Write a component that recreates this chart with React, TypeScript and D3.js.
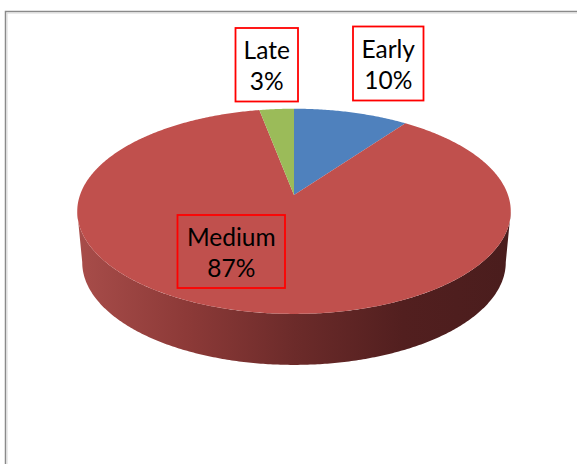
import React from "react";
import * as d3 from "d3";

const categories = ["Early", "Medium", "Late"];
const values = [10, 87, 3];
const percentLabels = ["10%", "87%", "3%"];
const topColors = ["#4f81bd", "#c0504d", "#9bbb59"];

// layout
const W = 577, H = 464;
const CX = 294;        // horizontal centre
const C0 = 195;        // projected centre of top face (apex)
const RXS = 214;       // horizontal radius scale
const K2 = 100;        // vertical radius scale
const P = 0.159;       // perspective factor
const DEPTH = 51;      // thickness
const BOTTOM_SCALE = 0.977;
const labelBoxes: Record<string, { x: number; y: number; w: number; h: number; fill: string }> = {
  Early: { x: 353, y: 26.5, w: 70.5, h: 74, fill: "#ffffff" },
  Late: { x: 235.5, y: 28, w: 62.5, h: 73.5, fill: "#ffffff" },
  Medium: { x: 177.5, y: 215, w: 107.5, h: 73, fill: "none" },
};

const proj = (a: number, level: number): [number, number] => {
  const den = 1 + P * Math.cos(a);
  const sx = level ? BOTTOM_SCALE : 1;
  return [CX + (RXS * sx * Math.sin(a)) / den, C0 - (K2 * Math.cos(a)) / den + level * DEPTH];
};

const sample = (a0: number, a1: number, level: number): [number, number][] => {
  const n = Math.max(2, Math.ceil(Math.abs(a1 - a0) / 0.01));
  const pts: [number, number][] = [];
  for (let k = 0; k <= n; k++) pts.push(proj(a0 + ((a1 - a0) * k) / n, level));
  return pts;
};

const line = d3.line<[number, number]>();

export default function App() {
  const pie = d3.pie<number>().sort(null).startAngle(0).endAngle(2 * Math.PI);
  const arcs = pie(values);
  const thR = Math.acos(-P);
  const thL = 2 * Math.PI - thR;

  const topPath = (a0: number, a1: number) => {
    const pts: [number, number][] = [[CX, C0], ...sample(a0, a1, 0)];
    return line(pts) + "Z";
  };
  const sidePath = (a0: number, a1: number) => {
    const s = Math.max(a0, thR), e = Math.min(a1, thL);
    if (e <= s) return null;
    const pts = [...sample(s, e, 0), ...sample(e, s, 1)];
    return line(pts) + "Z";
  };

  const font = "Lato, 'Open Sans', sans-serif";

  return (
    <svg width={W} height={H} style={{ position: "absolute", left: 0, top: 0 }} xmlns="http://www.w3.org/2000/svg">
      <defs>
        <linearGradient id="sideGrad" gradientUnits="userSpaceOnUse" x1={CX - 217} y1={0} x2={CX + 217} y2={0}>
          <stop offset="0" stopColor="#a84d4a" />
          <stop offset="0.25" stopColor="#8d3a38" />
          <stop offset="0.5" stopColor="#6c2b2a" />
          <stop offset="0.75" stopColor="#521f1f" />
          <stop offset="1" stopColor="#4a1d1d" />
        </linearGradient>
      </defs>
      <rect x={0} y={0} width={W} height={H} fill="#ffffff" />
      <rect x={5.5} y={11.5} width={W + 20} height={H + 20} fill="none" stroke="#8a8a8a" strokeWidth={1.5} />
      <rect x={7} y={13} width={W + 20} height={H + 20} fill="none" stroke="#d8d8d8" strokeWidth={1} />
      {arcs.map((a, i) => {
        const d = sidePath(a.startAngle, a.endAngle);
        return d ? <path key={"s" + i} d={d} fill="url(#sideGrad)" /> : null;
      })}
      {arcs.map((a, i) => (
        <path key={"t" + i} d={topPath(a.startAngle, a.endAngle)} fill={topColors[i]} />
      ))}
      {categories.map((c, i) => {
        const b = labelBoxes[c];
        const cx = b.x + b.w / 2;
        return (
          <g key={"l" + i}>
            <rect x={b.x} y={b.y} width={b.w} height={b.h} fill={b.fill} stroke="#ff0000" strokeWidth={1.8} />
            <text x={cx} y={b.y + 31} textAnchor="middle" fontFamily={font} fontSize={24.5} fill="#000">
              {c}
            </text>
            <text x={cx} y={b.y + 62} textAnchor="middle" fontFamily={font} fontSize={24.5} fill="#000">
              {percentLabels[i]}
            </text>
          </g>
        );
      })}
    </svg>
  );
}
